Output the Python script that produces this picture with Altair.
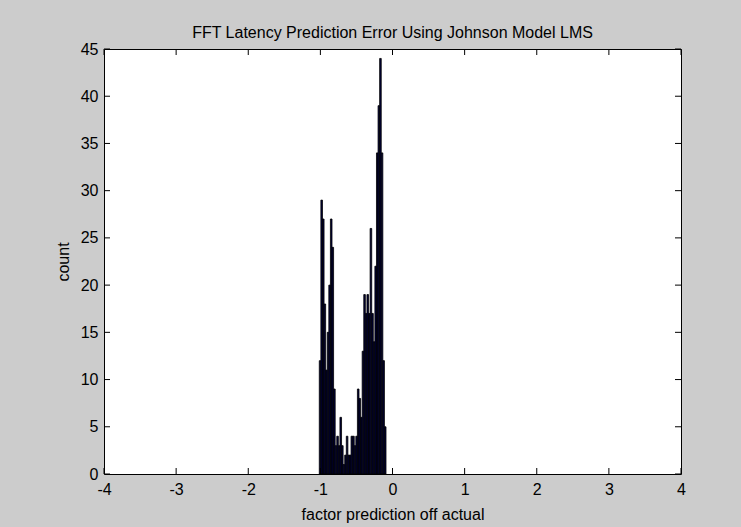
import altair as alt
import pandas as pd

# ---- data ----
counts = [12, 29, 27, 18, 11, 15, 20, 27, 24, 9,
          3, 4, 3, 6, 3, 1, 2, 4, 2, 2,
          4, 4, 3, 4, 9, 8, 6, 13, 19, 17,
          19, 17, 26, 17, 14, 22, 34, 39, 44, 34,
          12, 5]
bin_lo = -1.015
bin_hi = -0.09
x_ticks = [-4, -3, -2, -1, 0, 1, 2, 3, 4]
y_ticks = [0, 5, 10, 15, 20, 25, 30, 35, 40, 45]

title_text = "FFT Latency Prediction Error Using Johnson Model LMS"
x_title = "factor prediction off actual"
y_title = "count"

W, H = 577, 425
FONT = "Liberation Sans"

n = len(counts)
w = (bin_hi - bin_lo) / n
bars_df = pd.DataFrame({
    "x0": [bin_lo + i * w for i in range(n)],
    "x1": [bin_lo + (i + 1) * w for i in range(n)],
    "count": counts,
})
xt_df = pd.DataFrame({"x0": x_ticks})
yt_df = pd.DataFrame({"count": y_ticks})

xscale = alt.Scale(domain=[-4, 4], nice=False, zero=False)
yscale = alt.Scale(domain=[0, 45], nice=False)

common = dict(ticks=False, tickSize=0, domain=False, grid=False,
              labelFontSize=16, titleFontSize=16, labelFont=FONT,
              titleFont=FONT, titleFontWeight="normal", labelColor="black",
              titleColor="black", labelFlush=False,
              labelExpr="'' + datum.value")
xaxis = alt.Axis(values=x_ticks, title=x_title, labelPadding=7,
                 titlePadding=9, **common)
yaxis = alt.Axis(values=y_ticks, title=y_title, labelPadding=6,
                 titlePadding=9, **common)

bars = alt.Chart(bars_df).mark_rect(
    color="#00003a", stroke="black", strokeWidth=0.8
).encode(
    x=alt.X("x0:Q", scale=xscale, axis=xaxis),
    x2="x1:Q",
    y=alt.Y("count:Q", scale=yscale, axis=yaxis),
    y2=alt.datum(0),
)

tick_len = 6
xt_bottom = alt.Chart(xt_df).mark_rule(color="black", strokeWidth=1).encode(
    x=alt.X("x0:Q", scale=xscale, axis=xaxis),
    y=alt.value(H), y2=alt.value(H - tick_len))
xt_top = alt.Chart(xt_df).mark_rule(color="black", strokeWidth=1).encode(
    x=alt.X("x0:Q", scale=xscale, axis=xaxis),
    y=alt.value(0), y2=alt.value(tick_len))
yt_left = alt.Chart(yt_df).mark_rule(color="black", strokeWidth=1).encode(
    y=alt.Y("count:Q", scale=yscale, axis=yaxis),
    x=alt.value(0), x2=alt.value(tick_len))
yt_right = alt.Chart(yt_df).mark_rule(color="black", strokeWidth=1).encode(
    y=alt.Y("count:Q", scale=yscale, axis=yaxis),
    x=alt.value(W), x2=alt.value(W - tick_len))

chart = alt.layer(
    bars, xt_bottom, xt_top, yt_left, yt_right
).properties(
    width=W, height=H,
    title=alt.TitleParams(title_text, fontSize=16, fontWeight="normal",
                          font=FONT, color="black", anchor="middle", offset=0),
    background="#cccccc",
    padding={"left": 104, "top": 49, "right": 60, "bottom": 53},
    autosize=alt.AutoSizeParams(type="none"),
).configure(font=FONT).configure_view(
    fill="white", stroke="black", strokeWidth=1
)

chart.save("out.html", embed_options={"renderer": "svg", "actions": False})
